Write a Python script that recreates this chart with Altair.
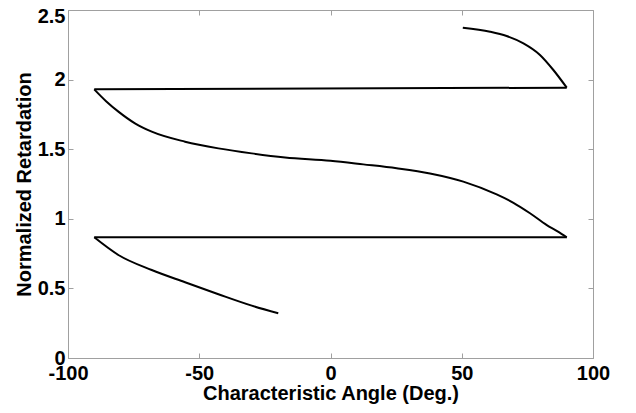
import altair as alt
import pandas as pd

# Curve pieces (x = characteristic angle, y = normalized retardation)
low_x = [-90.0, -80.8, -68.1, -55.4, -42.7, -30.0, -19.9]
low_y = [0.867, 0.740, 0.632, 0.544, 0.458, 0.376, 0.321]

flat1_x = [-90.0, 90.0]
flat1_y = [0.867, 0.867]

mid_x = [-90.0, -85.5, -80.8, -74.5, -68.1, -55.4, -42.7, -30.0, -17.3, 0.0,
         12.5, 25.2, 37.9, 50.6, 63.3, 69.7, 76.0, 82.4, 86.5, 90.0]
mid_y = [1.930, 1.845, 1.770, 1.686, 1.626, 1.554, 1.506, 1.470, 1.441, 1.417,
         1.391, 1.363, 1.326, 1.267, 1.175, 1.115, 1.040, 0.955, 0.910, 0.867]

flat2_x = [-90.0, 90.0]
flat2_y = [1.930, 1.942]

top_x = [50.4, 60.8, 67.1, 73.5, 79.8, 84.9, 90.0]
top_y = [2.373, 2.344, 2.313, 2.260, 2.177, 2.069, 1.942]

x_ticks = [-100, -50, 0, 50, 100]
y_ticks = [0, 0.5, 1, 1.5, 2, 2.5]

pieces = [("a", low_x, low_y), ("b", flat1_x, flat1_y), ("c", mid_x, mid_y),
          ("d", flat2_x, flat2_y), ("e", top_x, top_y)]
rows = []
for name, xs, ys in pieces:
    for xv, yv in zip(xs, ys):
        rows.append({"seg": name, "angle": xv, "retard": yv})
df = pd.DataFrame(rows)

W, H = 525, 348
FONT = "Liberation Sans"
GRAY = "#a0a0a0"

chart = alt.Chart(df).mark_line(color="black", strokeWidth=2, interpolate="monotone").encode(
    x=alt.X("angle:Q", scale=alt.Scale(domain=[-100, 100], nice=False),
            axis=alt.Axis(values=x_ticks, title="Characteristic Angle (Deg.)",
                          labelExpr="datum.value < 0 ? '-' + format(-datum.value, 'd') : format(datum.value, 'd')",
                          grid=True, gridDash=[5, H - 10], gridColor=GRAY,
                          titlePadding=0, labelPadding=5)),
    y=alt.Y("retard:Q", scale=alt.Scale(domain=[0, 2.5], nice=False),
            axis=alt.Axis(values=y_ticks, format="~g", title="Normalized Retardation",
                          labelOffset=alt.condition("datum.value == 2.5", alt.value(6), alt.value(0)),
                          grid=True, gridDash=[5, W - 10], gridColor=GRAY,
                          titlePadding=3, labelPadding=3)),
    detail="seg:N",
).properties(
    width=W, height=H,
    autosize=alt.AutoSizeParams(type="none"),
    padding={"left": 60, "top": 2, "right": 20, "bottom": 47},
).configure_view(
    stroke=GRAY, strokeWidth=1
).configure_axis(
    labelFont=FONT, titleFont=FONT,
    labelFontSize=20, titleFontSize=20,
    labelFontWeight="bold", titleFontWeight="bold",
    labelColor="black", titleColor="black",
    domainColor=GRAY, ticks=False, labelFlush=False,
)

chart.save("out.html", embed_options={"renderer": "svg", "actions": False})
